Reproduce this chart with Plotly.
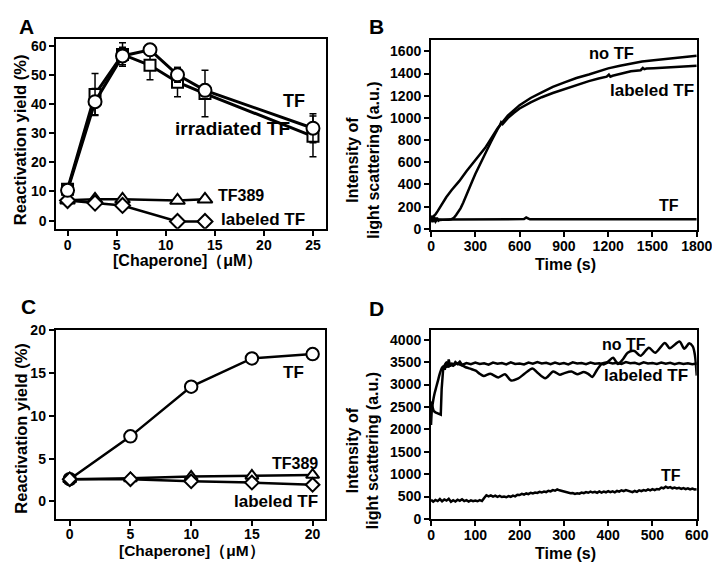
import plotly.graph_objects as go
from plotly.subplots import make_subplots

W, H = 720, 562
FONT = "Liberation Sans, Arial, sans-serif"

# --- Panel A: reactivation yield vs chaperone ---
chap_A = [0, 2.8, 5.6, 8.4, 11.2, 14, 25]
tf_A = [10.4, 40.8, 56.5, 58.6, 50.0, 44.7, 31.7]
tf_A_err = [0.8, 4.5, 3.0, 1.2, 2.5, 2.0, 5.0]
irr_A = [10.8, 43.3, 57.0, 53.3, 47.5, 43.6, 28.9]
irr_A_err = [1.0, 7.2, 4.0, 5.0, 5.0, 8.0, 7.0]
chap_A_short = [0, 2.8, 5.6, 11.2, 14]
tf389_A = [7.0, 7.3, 7.3, 6.9, 7.3]
labeled_A = [6.9, 6.0, 5.2, -0.3, -0.3]

# --- Panel B: light scattering, 0-1800 s ---
t_noTF_B = [0, 15, 30, 45, 60, 80, 103, 140, 191, 240, 300, 367, 450, 520, 600, 675,
            750, 825, 900, 985, 1069, 1135, 1200, 1280, 1354, 1430, 1508, 1585, 1662,
            1730, 1800]
noTF_B = [95, 110, 130, 160, 195, 240, 285, 350, 430, 520, 620, 730, 905, 1020, 1115,
          1180, 1230, 1280, 1318, 1360, 1392, 1420, 1447, 1470, 1492, 1508, 1521, 1530,
          1538, 1548, 1560]
t_lab_B = [0, 10, 20, 30, 40, 60, 80, 100, 120, 140, 155, 170, 185, 200, 218, 235, 257,
           279, 300, 323, 345, 367, 390, 410, 430, 450, 465, 475, 485, 520, 560, 600,
           675, 750, 825, 900, 985, 1069, 1135, 1190, 1205, 1215, 1230, 1280, 1354,
           1420, 1435, 1445, 1460, 1508, 1585, 1662, 1730, 1800]
lab_B = [100, 70, 90, 65, 85, 80, 82, 80, 83, 88, 100, 125, 150, 185, 235, 285, 355,
         430, 495, 561, 620, 678, 740, 794, 850, 896, 930, 960, 945, 998, 1045, 1085,
         1140, 1187, 1225, 1260, 1298, 1332, 1355, 1372, 1390, 1372, 1380, 1398, 1420,
         1430, 1450, 1440, 1445, 1449, 1455, 1463, 1466, 1470]
t_tf_B = [0, 10, 20, 30, 40, 50, 60, 80, 120, 200, 300, 400, 500, 600, 630, 645, 655,
          670, 700, 800, 900, 1000, 1200, 1400, 1600, 1800]
tf_B = [120, 60, 110, 70, 100, 75, 85, 82, 84, 85, 86, 85, 86, 86, 88, 102, 96, 86, 86,
        86, 85, 86, 86, 86, 85, 86]

# --- Panel C: reactivation yield vs chaperone ---
chap_C = [0, 5, 10, 15, 20]
tf_C = [2.6, 7.6, 13.4, 16.7, 17.2]
tf389_C = [2.6, 2.7, 2.9, 3.0, 3.1]
labeled_C = [2.6, 2.6, 2.35, 2.2, 1.95]

# --- Panel D: light scattering, 0-600 s ---
t_noTF_D = [0, 2, 5, 8, 12, 16, 20, 25, 30, 35, 40, 45, 50, 58, 64, 72, 80, 90, 101,
            110, 119, 134, 152, 167, 181, 196, 211, 229, 240, 258, 276, 291, 300, 317,
            330, 345, 355, 364, 375, 386, 398, 411, 422, 433, 444, 459, 473, 492, 506,
            528, 539, 561, 572, 583, 591, 596, 600]
noTF_D = [2100, 2450, 2650, 2800, 2950, 3100, 3250, 3380, 3420, 3500, 3400, 3440, 3420,
          3470, 3450, 3420, 3380, 3350, 3310, 3240, 3190, 3240, 3160, 3230, 3090, 3130,
          3240, 3360, 3270, 3140, 3290, 3220, 3250, 3290, 3230, 3280, 3240, 3170, 3330,
          3470, 3500, 3600, 3460, 3560, 3710, 3750, 3640, 3820, 3710, 3930, 3810, 3960,
          3800, 3920, 3850, 3650, 3200]
t_lab_D = [0, 3, 6, 10, 14, 18, 22, 24, 26, 28, 31, 34, 37, 40, 43, 46, 50, 55, 60, 65,
           70] + list(range(80, 601, 10))
lab_D = [2620, 2480, 2410, 2380, 2360, 2340, 2330, 2900, 3300, 3420, 3330, 3450, 3380,
         3560, 3400, 3480, 3430, 3500, 3460, 3510, 3440,
         3480, 3455, 3490, 3460, 3475, 3445, 3490, 3465, 3480, 3450,
         3495, 3460, 3470, 3450, 3490, 3465, 3500, 3470, 3485, 3455,
         3490, 3460, 3480, 3450, 3495, 3470, 3480, 3455, 3490, 3465,
         3475, 3450, 3495, 3470, 3485, 3460, 3500, 3475, 3485, 3455,
         3495, 3470, 3480, 3460, 3490, 3465, 3485, 3455, 3480, 3460,
         3475, 3455, 3470]
t_tf_D = list(range(0, 601, 5))
tf_D = [430, 385, 425, 400, 445, 395, 435, 410, 450, 385,
        420, 390, 430, 405, 440, 400, 420, 390, 415, 395,
        410, 395, 420, 400, 470, 530, 505, 525, 500, 520,
        495, 515, 490, 500, 485, 510, 495, 520, 505, 540,
        535, 560, 545, 570, 555, 585, 570, 590, 580, 605,
        590, 610, 600, 630, 615, 645, 630, 660, 640, 625,
        615, 600, 590, 575, 580, 560, 575, 565, 590, 575,
        600, 585, 610, 590, 605, 585, 615, 590, 610, 595,
        620, 600, 615, 595, 625, 610, 640, 620, 645, 625,
        615, 600, 625, 605, 640, 620, 645, 630, 660, 640,
        665, 645, 670, 660, 700, 685, 720, 695, 710, 685,
        700, 680, 695, 670, 690, 665, 685, 660, 680, 660,
        665]
assert len(t_lab_D) == len(lab_D) and len(t_tf_D) == len(tf_D)

fig = make_subplots(rows=2, cols=2)


def marker(symbol, size):
    return dict(symbol=symbol, size=size, color="white",
                line=dict(color="black", width=2))


def errbar(arr):
    return dict(type="data", array=arr, visible=True, color="black",
                thickness=1.5, width=3.5)


# A
fig.add_trace(go.Scatter(x=chap_A_short, y=tf389_A, mode="lines+markers",
                         line=dict(color="black", width=2.5),
                         marker=marker("triangle-up", 13)), row=1, col=1)
fig.add_trace(go.Scatter(x=chap_A_short, y=labeled_A, mode="lines+markers",
                         line=dict(color="black", width=2.5),
                         marker=marker("diamond", 11.5)), row=1, col=1)
fig.add_trace(go.Scatter(x=chap_A, y=irr_A, mode="lines+markers",
                         error_y=errbar(irr_A_err),
                         line=dict(color="black", width=3),
                         marker=marker("square", 11)), row=1, col=1)
fig.add_trace(go.Scatter(x=chap_A, y=tf_A, mode="lines+markers",
                         error_y=errbar(tf_A_err),
                         line=dict(color="black", width=3),
                         marker=marker("circle", 13)), row=1, col=1)

# B
for tt, vv in [(t_tf_B, tf_B), (t_lab_B, lab_B), (t_noTF_B, noTF_B)]:
    fig.add_trace(go.Scatter(x=tt, y=vv, mode="lines",
                             line=dict(color="black", width=2.5)), row=1, col=2)

# C
fig.add_trace(go.Scatter(x=chap_C, y=tf_C, mode="lines+markers",
                         line=dict(color="black", width=2.5),
                         marker=marker("circle", 12.5)), row=2, col=1)
fig.add_trace(go.Scatter(x=chap_C, y=tf389_C, mode="lines+markers",
                         line=dict(color="black", width=2.5),
                         marker=marker("triangle-up", 11.5)), row=2, col=1)
fig.add_trace(go.Scatter(x=chap_C, y=labeled_C, mode="lines+markers",
                         line=dict(color="black", width=2.5),
                         marker=marker("diamond", 10.5)), row=2, col=1)

# D
fig.add_trace(go.Scatter(x=t_tf_D, y=tf_D, mode="lines",
                         line=dict(color="black", width=2.5)), row=2, col=2)
fig.add_trace(go.Scatter(x=t_lab_D, y=lab_D, mode="lines",
                         line=dict(color="black", width=2.5)), row=2, col=2)
fig.add_trace(go.Scatter(x=t_noTF_D, y=noTF_D, mode="lines",
                         line=dict(color="black", width=2.5, shape="spline",
                                   smoothing=0.8)), row=2, col=2)

axis_style = dict(showline=True, linewidth=2, linecolor="black", mirror=True,
                  ticks="outside", ticklen=5, tickwidth=2, tickcolor="black",
                  showgrid=False, zeroline=False,
                  tickfont=dict(family=FONT, size=14, weight="bold", color="black"))

fig.update_xaxes(**axis_style, ticklabelstandoff=-3)
fig.update_yaxes(**axis_style)

fig.update_layout(
    xaxis=dict(domain=[0.0635, 0.4482], range=[-1.13, 26.3], tickvals=[0, 5, 10, 15, 20, 25]),
    yaxis=dict(domain=[0.6103, 0.9573], range=[-2.8, 62.2], tickvals=[0, 10, 20, 30, 40, 50, 60]),
    xaxis2=dict(domain=[0.5986, 0.9782], range=[0, 1800], tickvals=list(range(0, 1801, 300))),
    yaxis2=dict(domain=[0.6085, 0.9555], range=[-8, 1700], tickvals=list(range(0, 1601, 200))),
    xaxis3=dict(domain=[0.0625, 0.4468], range=[-1.15, 21], tickvals=[0, 5, 10, 15, 20]),
    yaxis3=dict(domain=[0.0795, 0.4247], range=[-2, 20], tickvals=[0, 5, 10, 15, 20]),
    xaxis4=dict(domain=[0.5986, 0.9782], range=[0, 600], tickvals=list(range(0, 601, 100))),
    yaxis4=dict(domain=[0.0788, 0.4247], range=[0, 4215], tickvals=list(range(0, 4001, 500))),
    width=W, height=H, margin=dict(l=0, r=0, t=0, b=0),
    plot_bgcolor="white", paper_bgcolor="white", showlegend=False,
)


def note(x, y, text, size, angle=0, anchor="center"):
    fig.add_annotation(x=x / W, y=1 - y / H, xref="paper", yref="paper", text=text,
                       showarrow=False, textangle=angle, xanchor=anchor, yanchor="middle",
                       font=dict(family=FONT, size=size, weight="bold", color="black"))


# panel letters
note(15, 11, "A", 21)
note(375, 11, "B", 21)
note(17, 299, "C", 21)
note(375, 301, "D", 21)

# axis titles
note(9, 127, "Reactivation yield (%)", 16.5, angle=-90)
note(9, 424, "Reactivation yield (%)", 16.5, angle=-90)
note(361, 148, "Intensity of<br>light scattering (a.u.)", 16, angle=-90)
note(361, 447, "Intensity of<br>light scattering (a.u.)", 16, angle=-90)
note(180, 252, "[Chaperone]（μM）", 16)
note(185, 551, "[Chaperone]（μM）", 15.5)
note(569, 256, "Time (s)", 16)
note(569, 553, "Time (s)", 16)

# curve labels
note(290, 87, "TF", 18)
note(227, 116, "irradiated TF", 19)
note(210, 185, "TF389", 16, anchor="left")
note(213, 209, "labeled TF", 17, anchor="left")

note(617, 38, "no TF", 16.5)
note(658, 77, "labeled TF", 17)
note(676, 195, "TF", 16)

note(290, 367, "TF", 17)
note(291, 461, "TF389", 16)
note(272, 500, "labeled TF", 17)

note(629, 338, "no TF", 16)
note(652, 370, "labeled TF", 17)
note(678, 473, "TF", 16)

fig.write_html("out.html")
